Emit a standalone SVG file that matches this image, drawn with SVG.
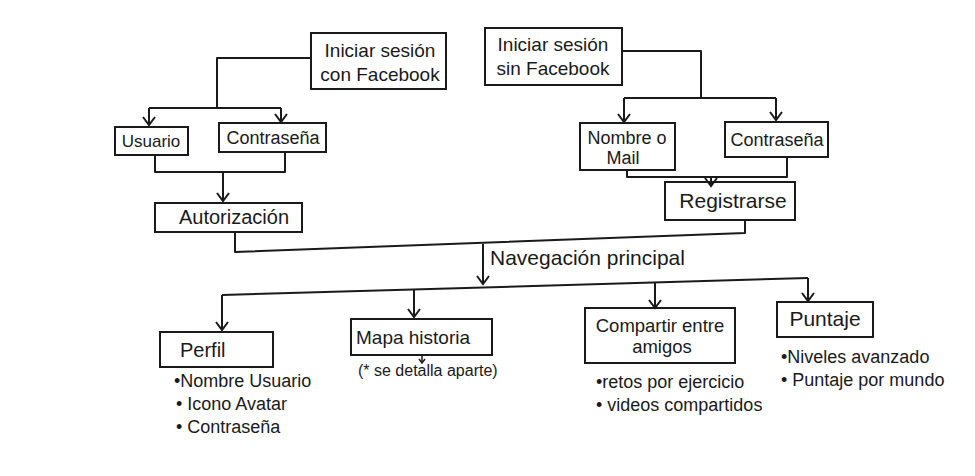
<svg xmlns="http://www.w3.org/2000/svg" width="975" height="476" viewBox="0 0 975 476">
<style>
.box{fill:none;stroke:#1a1a1a;stroke-width:2}
.ln{fill:none;stroke:#1a1a1a;stroke-width:2;stroke-linejoin:round}
text{font-family:"Liberation Sans","DejaVu Sans",sans-serif;fill:#1a1a1a;font-size:17px}
.c{text-anchor:middle}
.b{font-size:18px}
.xs{font-size:16px}
.l{font-size:20px}
</style>
<defs>
<marker id="ar" markerWidth="14" markerHeight="14" refX="12" refY="7" orient="auto" markerUnits="userSpaceOnUse" viewBox="0 0 14 14">
<polyline points="4,1 12,7 4,13" fill="none" stroke="#1a1a1a" stroke-width="2"/>
</marker>
</defs>
<rect width="975" height="476" fill="#ffffff"/>
<g id="connectors">
<polyline class="ln" points="311,58 217,58 217,108"/>
<polyline class="ln" points="149,108 281,108"/>
<line class="ln" x1="149" y1="108" x2="149" y2="125" marker-end="url(#ar)"/>
<line class="ln" x1="281" y1="108" x2="281" y2="122" marker-end="url(#ar)"/>
<polyline class="ln" points="155,155 155,172 285,172 285,152"/>
<line class="ln" x1="223" y1="172" x2="223" y2="201" marker-end="url(#ar)"/>
<polyline class="ln" points="622,51 701,51 701,98"/>
<polyline class="ln" points="624,98 776,98"/>
<line class="ln" x1="624" y1="98" x2="624" y2="122" marker-end="url(#ar)"/>
<line class="ln" x1="776" y1="98" x2="776" y2="120" marker-end="url(#ar)"/>
<polyline class="ln" points="627,170 627,177 787,177 787,157"/>
<line class="ln" x1="711" y1="177" x2="711" y2="186" marker-end="url(#ar)"/>
<polyline class="ln" points="235,232 235,252 745,233 745,220"/>
<line class="ln" x1="483" y1="244" x2="483" y2="284" marker-end="url(#ar)"/>
<polyline class="ln" points="222,295 808,278"/>
<line class="ln" x1="222" y1="295" x2="222" y2="330" marker-end="url(#ar)"/>
<line class="ln" x1="414" y1="289" x2="414" y2="317" marker-end="url(#ar)"/>
<line class="ln" x1="655" y1="282" x2="655" y2="308" marker-end="url(#ar)"/>
<line class="ln" x1="808" y1="278" x2="808" y2="301" marker-end="url(#ar)"/>
<line x1="422" y1="355" x2="422" y2="362" stroke="#1a1a1a" stroke-width="1.5"/>
<polyline points="419,359 422,363 425,359" fill="none" stroke="#1a1a1a" stroke-width="1.5"/>
</g>
<g id="n-facebook">
<rect class="box" x="311" y="33" width="135" height="56"/>
<text class="c l" x="380" y="57" style="font-size:19px">Iniciar sesión</text>
<text class="c l" x="380" y="81" style="font-size:19px">con Facebook</text>
</g>
<g id="n-sin-facebook">
<rect class="box" x="485" y="28" width="137" height="57"/>
<text class="c" x="553" y="51" style="font-size:19px">Iniciar sesión</text>
<text class="c" x="553" y="75" style="font-size:19px">sin Facebook</text>
</g>
<g id="n-usuario">
<rect class="box" x="115" y="127" width="73" height="28"/>
<text class="c" x="151" y="147">Usuario</text>
</g>
<g id="n-contrasena1">
<rect class="box" x="219" y="123" width="107" height="29"/>
<text class="c" x="273" y="144" style="font-size:18px">Contraseña</text>
</g>
<g id="n-autorizacion">
<rect class="box" x="155" y="203" width="147" height="29"/>
<text class="c l" x="234" y="224">Autorización</text>
</g>
<g id="n-nombre">
<rect class="box" x="580" y="123" width="95" height="47"/>
<text class="c b" x="627" y="144">Nombre o</text>
<text class="c b" x="623" y="164">Mail</text>
</g>
<g id="n-contrasena2">
<rect class="box" x="725" y="122" width="103" height="35"/>
<text class="c b" x="777" y="146">Contraseña</text>
</g>
<g id="n-registrarse">
<rect class="box" x="665" y="182" width="130" height="38"/>
<text class="c" x="733" y="208" style="font-size:21px">Registrarse</text>
</g>
<g id="n-navegacion">
<text x="490" y="265" style="font-size:21px">Navegación principal</text>
</g>
<g id="n-perfil">
<rect class="box" x="160" y="332" width="113" height="35"/>
<text class="l" x="180" y="357">Perfil</text>
<text class="b" x="174" y="387">•Nombre Usuario</text>
<text class="b" x="176" y="410">• Icono Avatar</text>
<text class="b" x="176" y="433">• Contraseña</text>
</g>
<g id="n-mapa">
<rect class="box" x="351" y="319" width="141" height="36"/>
<text x="356" y="344" style="font-size:19px">Mapa historia</text>
<text class="xs" x="358" y="376">(* se detalla aparte)</text>
</g>
<g id="n-compartir">
<rect class="box" x="585" y="308" width="150" height="55"/>
<text class="c" x="660" y="332" style="font-size:18.5px">Compartir entre</text>
<text class="c" x="662" y="353" style="font-size:18.5px">amigos</text>
<text class="b" x="596" y="388">•retos por ejercicio</text>
<text class="b" x="596" y="411">• videos compartidos</text>
</g>
<g id="n-puntaje">
<rect class="box" x="777" y="302" width="96" height="35"/>
<text class="c" x="825" y="326" style="font-size:21px">Puntaje</text>
<text class="b" x="781" y="363">•Niveles avanzado</text>
<text class="b" x="781" y="386">• Puntaje por mundo</text>
</g>
</svg>
